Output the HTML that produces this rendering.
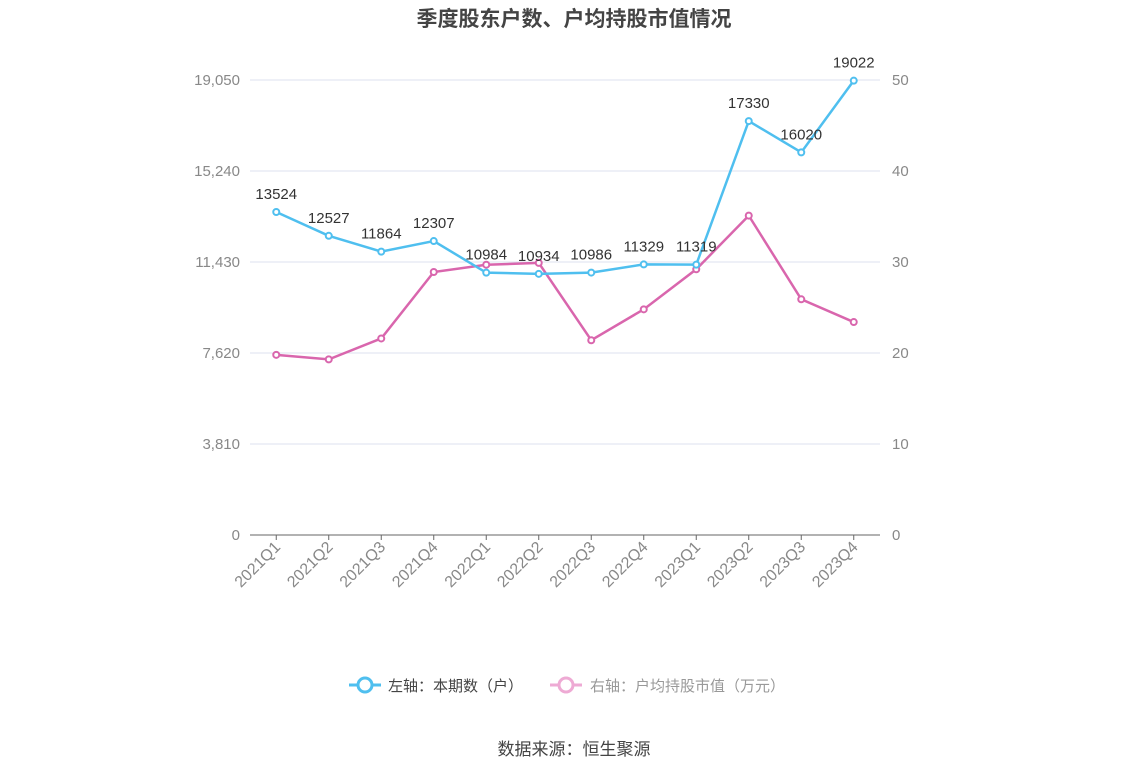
<!DOCTYPE html>
<html><head><meta charset="utf-8"><style>
body{margin:0;background:#fff;width:1148px;height:776px;overflow:hidden;font-family:"Liberation Sans","Noto Sans CJK SC",sans-serif;}
</style></head><body>
<svg id="chart" width="1148" height="776" xmlns="http://www.w3.org/2000/svg" font-family="Liberation Sans, Noto Sans CJK SC, sans-serif">
<text x="574" y="26" text-anchor="middle" font-size="21" font-weight="bold" fill="#444">季度股东户数、户均持股市值情况</text>
<g id="grid"></g><g id="axes"></g><g id="series"></g>
<g>
<line x1="349" y1="685" x2="381" y2="685" stroke="#4fbfef" stroke-width="3"/>
<circle cx="365" cy="685" r="7" fill="#fff" stroke="#4fbfef" stroke-width="3"/>
<text x="388" y="691" font-size="15" fill="#444">左轴：本期数（户）</text>
<line x1="550" y1="685" x2="582" y2="685" stroke="#eeaad4" stroke-width="3"/>
<circle cx="566" cy="685" r="7" fill="#fff" stroke="#eeaad4" stroke-width="3"/>
<text x="590" y="691" font-size="15" fill="#999">右轴：户均持股市值（万元）</text>
</g>
<text x="574" y="755" text-anchor="middle" font-size="17" fill="#444">数据来源：恒生聚源</text>
</svg>
<script>
const categories=["2021Q1","2021Q2","2021Q3","2021Q4","2022Q1","2022Q2","2022Q3","2022Q4","2023Q1","2023Q2","2023Q3","2023Q4"];
const holders=[13524,12527,11864,12307,10984,10934,10986,11329,11319,17330,16020,19022];
const avgValue=[19.8,19.3,21.6,28.9,29.7,29.9,21.4,24.8,29.2,35.1,25.9,23.4];
const leftTicks=[0,3810,7620,11430,15240,19050];
const rightTicks=[0,10,20,30,40,50];
const NS="http://www.w3.org/2000/svg";
const x0=250,x1=880,yB=535,yT=80;
const step=(x1-x0)/categories.length;
const xs=i=>x0+step*(i+0.5);
const yL=v=>yB-(v/19050)*(yB-yT);
const yR=v=>yB-(v/50)*(yB-yT);
function mk(tag,attrs,parent,txt){const e=document.createElementNS(NS,tag);for(const k in attrs)e.setAttribute(k,attrs[k]);if(txt!==undefined)e.textContent=txt;document.getElementById(parent).appendChild(e);return e;}
leftTicks.forEach((t,i)=>{
 const y=yL(t);
 if(i>0){const g=mk("line",{x1:x0,x2:x1,y1:y,y2:y,stroke:"#dde1ef","stroke-width":1},"grid");
 
 }
 const l=mk("text",{x:240,y:y+5,"text-anchor":"end","font-size":15,fill:"#888"},"axes",t.toLocaleString("en-US"));
 
 
});
rightTicks.forEach(t=>{
 const r=mk("text",{x:892,y:yR(t)+5,"font-size":15,fill:"#888"},"axes",String(t));
 
 
});
const ax=mk("line",{x1:x0,x2:x1,y1:yB,y2:yB,stroke:"#666","stroke-width":1},"axes");


categories.forEach((c,i)=>{
 const x=xs(i);
 mk("line",{x1:x,x2:x,y1:yB,y2:yB+5,stroke:"#666"},"axes");
 const t=mk("text",{x:x+5,y:yB+13,"text-anchor":"end","font-size":16,fill:"#888",transform:`rotate(-45 ${x+5} ${yB+13})`},"axes",c);
 
 
});
function drawLine(vals,yf,color,name,labels){
 const p=mk("polyline",{points:vals.map((v,i)=>xs(i)+","+yf(v)).join(" "),fill:"none",stroke:color,"stroke-width":2.5},"series");
 
 
 vals.forEach((v,i)=>{
  const c=mk("circle",{cx:xs(i),cy:yf(v),r:3,fill:"#fff",stroke:color,"stroke-width":2},"series");
  
  
  if(labels){const t=mk("text",{x:xs(i),y:yf(v)-13,"text-anchor":"middle","font-size":15,fill:"#333"},"series",String(v));
  
  }
 });
}
drawLine(avgValue,yR,"#d966ad","avg-value",false);
drawLine(holders,yL,"#4fbfef","holders",true);
</script>
</body></html>
